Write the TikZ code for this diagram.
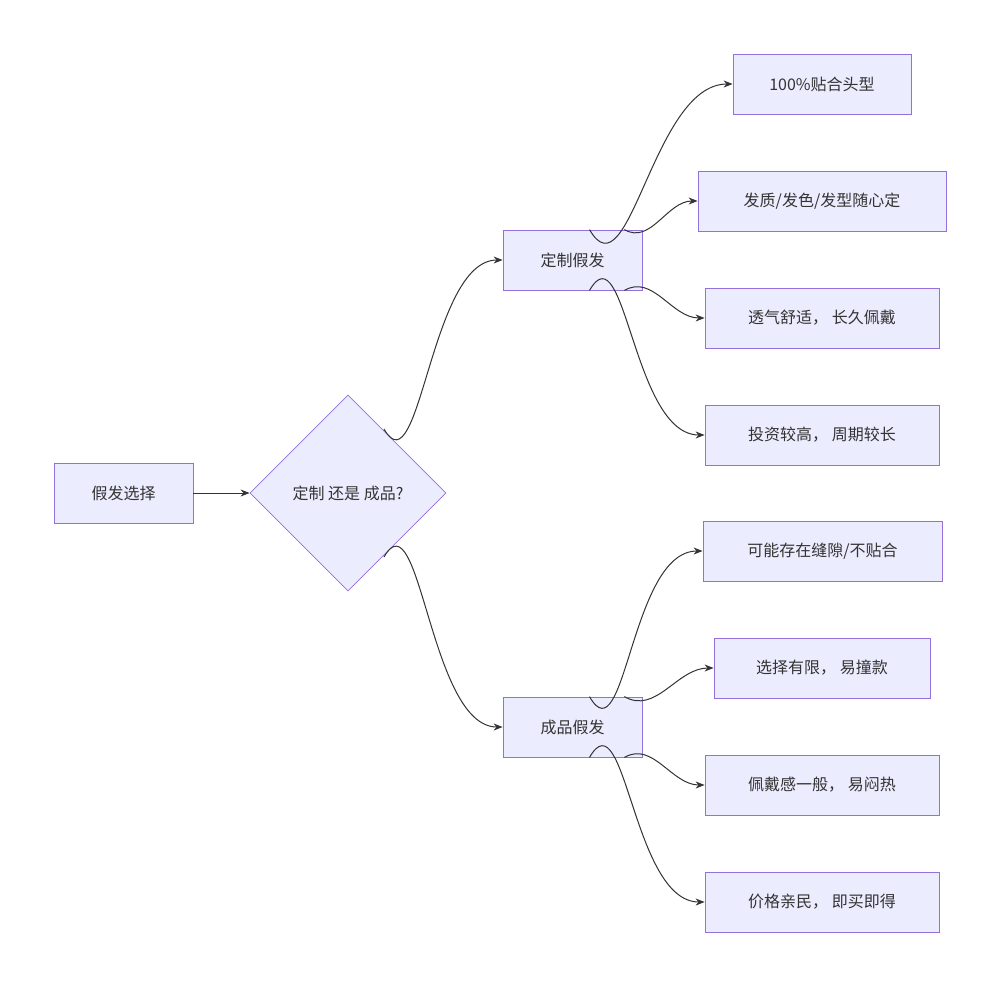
\documentclass[tikz,border=0pt]{standalone}
\usepackage{fontspec}
\setmainfont{Noto Sans CJK SC}
\usetikzlibrary{shapes.geometric,arrows.meta}
\definecolor{nf}{HTML}{ECECFF}
\definecolor{ns}{HTML}{9370DB}
\definecolor{ln}{HTML}{333333}
\begin{document}
\begin{tikzpicture}[x=1pt,y=-1pt,
  box/.style={draw=ns,fill=nf,line width=0.8pt,rectangle,inner sep=0pt,minimum height=60pt,font=\fontsize{16}{20}\selectfont,text=ln},
  dia/.style={draw=ns,fill=nf,line width=0.8pt,diamond,inner sep=0pt,minimum width=196pt,minimum height=196pt,font=\fontsize{16}{20}\selectfont,text=ln},
  ar/.style={draw=ln,line width=1pt,-{Stealth[length=9pt,width=7pt]}}]
\useasboundingbox (0,0) rectangle (1000,986);
\node[box,minimum width=139pt] (a) at (123.5,493) {假发选择};
\node[dia] (d) at (348,493) {定制 还是 成品?};
\node[box,minimum width=139pt] (c) at (572.5,260) {定制假发};
\node[box,minimum width=139pt] (p) at (572.5,727) {成品假发};
\node[box,minimum width=178pt] (c1) at (822,84) {100\%贴合头型};
\node[box,minimum width=248pt] (c2) at (822,201) {发质/发色/发型随心定};
\node[box,minimum width=234pt] (c3) at (822,318) {透气舒适， 长久佩戴};
\node[box,minimum width=234pt] (c4) at (822,435) {投资较高， 周期较长};
\node[box,minimum width=239pt] (p1) at (822.5,551) {可能存在缝隙/不贴合};
\node[box,minimum width=216pt] (p2) at (822,668) {选择有限， 易撞款};
\node[box,minimum width=234pt] (p3) at (822,785) {佩戴感一般， 易闷热};
\node[box,minimum width=234pt] (p4) at (822,902) {价格亲民， 即买即得};
\draw[ar] (a) -- (d.west);
\coordinate (dt) at (384,429);
\coordinate (db) at (384,557);
\draw[ar] (dt) to[out=-60,in=180,looseness=0.9] (c.west);
\draw[ar] (db) to[out=60,in=180,looseness=0.9] (p.west);
\draw[ar] (c.north)+(17,0) to[out=-60,in=180] (c1.west);
\draw[ar] (c.north east)+(-18,0) to[out=-30,in=180] (c2.west);
\draw[ar] (c.south east)+(-18,0) to[out=30,in=180] (c3.west);
\draw[ar] (c.south)+(17,0) to[out=60,in=180] (c4.west);
\draw[ar] (p.north)+(17,0) to[out=-60,in=180] (p1.west);
\draw[ar] (p.north east)+(-18,0) to[out=-30,in=180] (p2.west);
\draw[ar] (p.south east)+(-18,0) to[out=30,in=180] (p3.west);
\draw[ar] (p.south)+(17,0) to[out=60,in=180] (p4.west);
\end{tikzpicture}
\end{document}
